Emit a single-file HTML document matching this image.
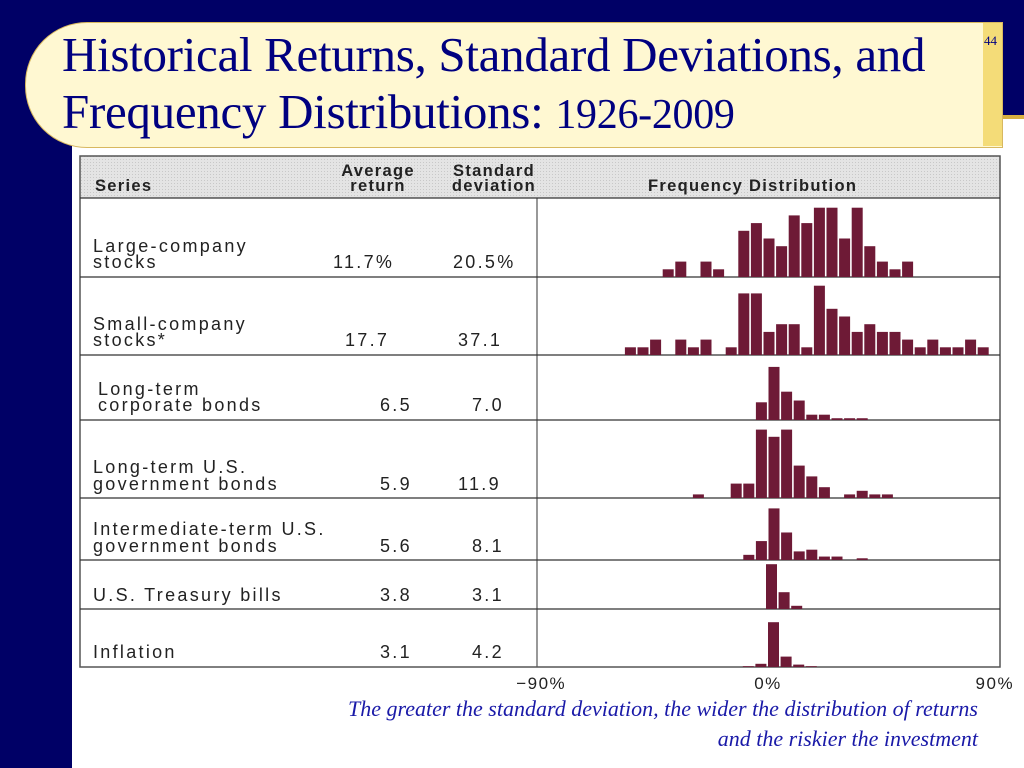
<!DOCTYPE html>
<html><head><meta charset="utf-8"><style>
html,body{margin:0;padding:0;}
body{width:1024px;height:768px;position:relative;overflow:hidden;background:#fff;font-family:"Liberation Sans",sans-serif;}
.abs{position:absolute;}
</style></head><body>
<div class="abs" style="left:0;top:0;width:1024px;height:117px;background:#000066"></div>
<div class="abs" style="left:990px;top:115px;width:34px;height:4px;background:#d8b040"></div>
<div class="abs" style="left:0;top:0;width:72px;height:768px;background:#000066"></div>
<div class="abs" style="left:25px;top:22px;width:976px;height:124px;background:#fff8d2;border:1px solid #d8b860;border-radius:62px 0 0 62px;"></div>
<div class="abs" style="left:983px;top:23px;width:19px;height:123px;background:#f4dc78"></div>
<div class="abs" style="left:62px;top:26px;font-family:'Liberation Serif',serif;color:#000080;font-size:49px;line-height:57px;letter-spacing:-0.3px;white-space:nowrap;">Historical Returns, Standard Deviations, and<br>Frequency Distributions: <span style="font-size:42px">1926-2009</span></div>
<div class="abs" style="left:984px;top:33px;font-family:'Liberation Serif',serif;font-size:13px;color:#000080">44</div>

<svg class="abs" style="left:0;top:0" width="1024" height="768">
<defs>
<pattern id="stip" width="3" height="3" patternUnits="userSpaceOnUse"><rect width="3" height="3" fill="#e4e4e4"/><rect width="1" height="1" fill="#c8c8c8"/></pattern>
</defs>
<rect x="80" y="156" width="920" height="42" fill="url(#stip)"/>
<rect x="80" y="156" width="920" height="511" fill="none" stroke="#555" stroke-width="1.5"/>
<line x1="537" y1="198" x2="537" y2="667" stroke="#555" stroke-width="1.2"/>
<g id="rowlines" stroke="#333" stroke-width="1.3"></g>
<g font-family="Liberation Sans,sans-serif" font-weight="bold" font-size="16.5" fill="#222" letter-spacing="1.3">
<text x="95" y="191">Series</text>
<text x="378" y="176" text-anchor="middle">Average</text>
<text x="378" y="191" text-anchor="middle">return</text>
<text x="494" y="176" text-anchor="middle">Standard</text>
<text x="494" y="191" text-anchor="middle">deviation</text>
<text x="648" y="191">Frequency Distribution</text>
</g>
<g font-family="Liberation Sans,sans-serif" font-size="18" fill="#222" letter-spacing="2.3">
<text x="93" y="252">Large-company</text><text x="93" y="268">stocks</text>
<text x="333" y="268">11.7%</text><text x="453" y="268">20.5%</text>
<text x="93" y="330">Small-company</text><text x="93" y="346">stocks*</text>
<text x="345" y="346">17.7</text><text x="458" y="346">37.1</text>
<text x="98" y="395">Long-term</text><text x="98" y="411">corporate bonds</text>
<text x="380" y="411">6.5</text><text x="472" y="411">7.0</text>
<text x="93" y="473">Long-term U.S.</text><text x="93" y="490">government bonds</text>
<text x="380" y="490">5.9</text><text x="458" y="490">11.9</text>
<text x="93" y="535">Intermediate-term U.S.</text><text x="93" y="552">government bonds</text>
<text x="380" y="552">5.6</text><text x="472" y="552">8.1</text>
<text x="93" y="601">U.S. Treasury bills</text>
<text x="380" y="601">3.8</text><text x="472" y="601">3.1</text>
<text x="93" y="658">Inflation</text>
<text x="380" y="658">3.1</text><text x="472" y="658">4.2</text>
</g>
<g id="bars"></g>
<g id="ticks" font-family="Liberation Sans,sans-serif" font-size="17" fill="#222" letter-spacing="1.5"></g>
</svg>

<div class="abs" style="right:46px;top:694px;text-align:right;font-family:'Liberation Serif',serif;font-style:italic;font-size:22px;line-height:30px;color:#1a1aa8">The greater the standard deviation, the wider the distribution of returns<br>and the riskier the investment</div>

<script>
const tickValues = [-90, 0, 90];
const tickLabels = ["\u221290%", "0%", "90%"];
const largeBins = [-40,-35,-25,-20,-10,-5,0,5,10,15,20,25,30,35,40,45,50,55];
const largeCounts = [1,2,2,1,6,7,5,4,8,7,9,9,5,9,4,2,1,2];
const smallBins = [-55,-50,-45,-35,-30,-25,-15,-10,-5,0,5,10,15,20,25,30,35,40,45,50,55,60,65,70,75,80,85];
const smallCounts = [1,1,2,2,1,2,1,8,8,3,4,4,1,9,6,5,3,4,3,3,2,1,2,1,1,2,1];
const corpBins = [-5,0,5,10,15,20,25,30,35];
const corpCounts = [10,30,16,11,3,3,1,1,1];
const govBins = [-30,-15,-10,-5,0,5,10,15,20,30,35,40,45];
const govCounts = [1,4,4,19,17,19,9,6,3,1,2,1,1];
const interBins = [-10,-5,0,5,10,15,20,25,35];
const interCounts = [3,11,30,16,5,6,2,2,1];
const tbillBins = [0,5,10];
const tbillCounts = [56,21,4];
const inflBins = [-10,-5,0,5,10,15];
const inflCounts = [1,4,56,13,3,1];

const svgNS = "http://www.w3.org/2000/svg";
function xScale(p){ return 768 + p * 2.52; }
const rows = [
  {name:"large", bins:largeBins, counts:largeCounts, base:277, unit:7.7, shift:-4.5},
  {name:"small", bins:smallBins, counts:smallCounts, base:355, unit:7.7, shift:-4.5},
  {name:"corp", bins:corpBins, counts:corpCounts, base:420, unit:1.77, shift:0.5},
  {name:"gov", bins:govBins, counts:govCounts, base:498, unit:3.6, shift:0.5},
  {name:"inter", bins:interBins, counts:interCounts, base:560, unit:1.72, shift:0.5},
  {name:"tbills", bins:tbillBins, counts:tbillCounts, base:609, unit:0.8, shift:-2},
  {name:"inflation", bins:inflBins, counts:inflCounts, base:667, unit:0.8, shift:0}
];
const lines = document.getElementById('rowlines');
[198,277,355,420,498,560,609].forEach(y=>{
  const l=document.createElementNS(svgNS,'line');
  l.setAttribute('x1',80);l.setAttribute('x2',1000);l.setAttribute('y1',y);l.setAttribute('y2',y);
  
  
  lines.appendChild(l);
});
const g = document.getElementById('bars');
rows.forEach(r=>{
  r.bins.forEach((b,i)=>{
    const h = r.counts[i]*r.unit;
    const rect = document.createElementNS(svgNS,'rect');
    rect.setAttribute('x', xScale(b)+r.shift);
    rect.setAttribute('y', r.base-h);
    rect.setAttribute('width', 11);
    rect.setAttribute('height', h);
    rect.setAttribute('fill', '#6e1a36');
    
    
    g.appendChild(rect);
  });
});
const t = document.getElementById('ticks');
tickValues.forEach((v,i)=>{
  const tx=document.createElementNS(svgNS,'text');
  tx.setAttribute('x', xScale(v));
  tx.setAttribute('y', 689);
  tx.setAttribute('text-anchor', 'middle');
  tx.textContent = tickLabels[i];
  
  
  t.appendChild(tx);
});
</script>
</body></html>
